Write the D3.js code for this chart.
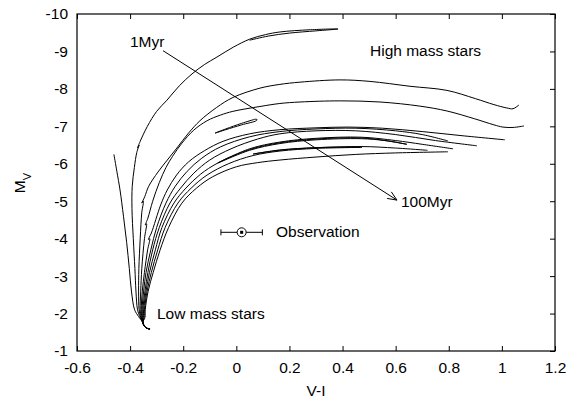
<!DOCTYPE html>
<html><head><meta charset="utf-8">
<script src="https://cdn.jsdelivr.net/npm/d3@7"></script>
<style>
body{margin:0;background:#fff}
text{font-family:"Liberation Sans",Arial,Helvetica,sans-serif;fill:#000}
</style>
</head><body>
<svg id="chart" width="573" height="401"></svg>
<script>
// ---- data (V-I, M_V) ----
const xTicks = [-0.6, -0.4, -0.2, 0, 0.2, 0.4, 0.6, 0.8, 1, 1.2];
const yTicks = [-10, -9, -8, -7, -6, -5, -4, -3, -2, -1];

const isoA = [[-0.325,-1.59],[-0.338,-1.61],[-0.346,-1.66],[-0.352,-1.76],[-0.368,-1.92],[-0.383,-2.1],[-0.395,-2.6],[-0.403,-3.2],[-0.413,-3.9],[-0.425,-4.6],[-0.438,-5.3],[-0.45,-5.8],[-0.461,-6.25]];
const isoB = [[-0.325,-1.59],[-0.338,-1.61],[-0.346,-1.66],[-0.352,-1.76],[-0.362,-1.9],[-0.372,-2.1],[-0.378,-2.6],[-0.382,-3.2],[-0.388,-4.0],[-0.393,-4.8],[-0.392,-5.4],[-0.384,-5.9],[-0.375,-6.3],[-0.366,-6.5],[-0.372,-6.42],[-0.362,-6.6],[-0.335,-7.0],[-0.3,-7.4],[-0.261,-7.7],[-0.215,-8.08],[-0.167,-8.4],[-0.12,-8.65],[-0.073,-8.85],[-0.01,-9.12],[0.051,-9.33],[0.11,-9.45],[0.164,-9.52],[0.28,-9.58],[0.383,-9.6],[0.3,-9.55],[0.2,-9.49],[0.12,-9.41],[0.05,-9.3]];
const isoC = [[-0.325,-1.59],[-0.338,-1.61],[-0.346,-1.66],[-0.352,-1.76],[-0.36,-1.9],[-0.366,-2.1],[-0.368,-2.6],[-0.367,-3.2],[-0.362,-4.0],[-0.356,-4.7],[-0.35,-5.0],[-0.356,-4.95],[-0.345,-5.12],[-0.33,-5.4],[-0.295,-5.78],[-0.26,-6.1],[-0.224,-6.42],[-0.18,-6.82],[-0.137,-7.15],[-0.075,-7.5],[-0.013,-7.77],[0.089,-8.02],[0.164,-8.12],[0.24,-8.18],[0.39,-8.24],[0.503,-8.2],[0.654,-8.07],[0.793,-7.96],[0.9,-7.74],[0.97,-7.58],[1.019,-7.49],[1.042,-7.47],[1.064,-7.57]];
const isoD = [[-0.325,-1.59],[-0.338,-1.61],[-0.346,-1.66],[-0.352,-1.76],[-0.358,-1.9],[-0.362,-2.1],[-0.36,-2.6],[-0.356,-3.2],[-0.346,-4.0],[-0.338,-4.4],[-0.343,-4.36],[-0.333,-4.55],[-0.315,-5.0],[-0.29,-5.5],[-0.265,-5.9],[-0.24,-6.2],[-0.205,-6.55],[-0.16,-6.9],[-0.11,-7.15],[-0.06,-7.3],[-0.013,-7.4],[0.089,-7.53],[0.164,-7.61],[0.24,-7.65],[0.39,-7.68],[0.541,-7.65],[0.691,-7.54],[0.793,-7.41],[0.898,-7.2],[0.97,-7.04],[1.004,-6.98],[1.042,-6.97],[1.083,-7.01]];
const isoE = [[-0.325,-1.59],[-0.338,-1.61],[-0.346,-1.66],[-0.352,-1.76],[-0.356,-1.9],[-0.358,-2.1],[-0.354,-2.6],[-0.346,-3.1],[-0.334,-3.7],[-0.326,-4.0],[-0.331,-3.98],[-0.32,-4.15],[-0.285,-4.9],[-0.26,-5.3],[-0.225,-5.7],[-0.18,-6.05],[-0.12,-6.35],[-0.05,-6.6],[0.05,-6.8],[0.164,-6.91],[0.3,-6.96],[0.42,-6.98],[0.55,-6.95],[0.7,-6.86],[0.85,-6.75],[1.011,-6.64]];
const isoF = [[-0.325,-1.59],[-0.338,-1.61],[-0.346,-1.66],[-0.352,-1.76],[-0.354,-1.9],[-0.355,-2.1],[-0.349,-2.6],[-0.34,-3.1],[-0.322,-3.7],[-0.3,-4.3],[-0.265,-4.95],[-0.23,-5.4],[-0.185,-5.8],[-0.13,-6.15],[-0.06,-6.45],[0.05,-6.72],[0.164,-6.86],[0.3,-6.93],[0.45,-6.95],[0.6,-6.88],[0.7,-6.78],[0.797,-6.61]];
const isoG = [[-0.325,-1.59],[-0.338,-1.61],[-0.346,-1.66],[-0.352,-1.76],[-0.352,-1.9],[-0.352,-2.1],[-0.344,-2.6],[-0.333,-3.1],[-0.315,-3.7],[-0.29,-4.3],[-0.25,-4.95],[-0.21,-5.35],[-0.16,-5.75],[-0.1,-6.1],[-0.02,-6.4],[0.08,-6.66],[0.164,-6.8],[0.3,-6.88],[0.45,-6.88],[0.6,-6.78],[0.75,-6.62],[0.906,-6.48]];
const isoH = [[-0.325,-1.59],[-0.338,-1.61],[-0.346,-1.66],[-0.352,-1.76],[-0.35,-1.9],[-0.349,-2.1],[-0.34,-2.6],[-0.327,-3.1],[-0.305,-3.7],[-0.28,-4.3],[-0.235,-4.95],[-0.19,-5.35],[-0.135,-5.72],[-0.07,-6.02],[0.05,-6.38],[0.164,-6.56],[0.3,-6.66],[0.47,-6.69],[0.58,-6.6],[0.642,-6.52],[0.56,-6.62],[0.47,-6.67],[0.3,-6.64],[0.164,-6.54],[0.05,-6.36],[-0.07,-6.02],[0.05,-6.4],[0.164,-6.58],[0.3,-6.68],[0.47,-6.71],[0.6,-6.62],[0.7,-6.52],[0.816,-6.4]];
const isoI = [[-0.325,-1.59],[-0.338,-1.61],[-0.346,-1.66],[-0.352,-1.76],[-0.347,-1.9],[-0.346,-2.1],[-0.336,-2.6],[-0.32,-3.1],[-0.296,-3.7],[-0.268,-4.3],[-0.22,-4.95],[-0.17,-5.35],[-0.11,-5.7],[-0.03,-6.0],[0.063,-6.22],[0.164,-6.34],[0.3,-6.41],[0.473,-6.44],[0.3,-6.43],[0.164,-6.37],[0.063,-6.26],[0.164,-6.36],[0.3,-6.43],[0.473,-6.46],[0.6,-6.42],[0.72,-6.36]];
const isoJ = [[-0.325,-1.59],[-0.338,-1.61],[-0.346,-1.66],[-0.352,-1.76],[-0.344,-1.9],[-0.343,-2.1],[-0.332,-2.6],[-0.313,-3.1],[-0.287,-3.7],[-0.255,-4.3],[-0.205,-4.95],[-0.15,-5.35],[-0.09,-5.65],[0.0,-5.92],[0.08,-6.03],[0.164,-6.1],[0.3,-6.18],[0.45,-6.25],[0.6,-6.29],[0.797,-6.32]];
const blueLoop = [[0.07,-7.19],[0.02,-7.08],[-0.04,-6.93],[-0.08,-6.82],[-0.04,-6.91],[0.02,-7.04],[0.075,-7.15],[0.078,-7.18],[0.07,-7.19]];

const observation = {vi: 0.02, mv: -4.17, err: 0.078};
const ageArrow = {from: [-0.276, -9.02], to: [0.605, -5.03]};

// ---- layout ----
const svg = d3.select("#chart");
const L = 77, R = 555, T = 14, B = 351;
const x = d3.scaleLinear().domain([-0.6, 1.2]).range([L, R]);
const y = d3.scaleLinear().domain([-1, -10]).range([B, T]);
const fmt = d => String(d);
const FS = "15.5px";

// axes (ticks drawn inward on bottom, top and right)
const gx = svg.append("g").attr("transform", `translate(0,${B})`)
  .call(d3.axisBottom(x).tickValues(xTicks).tickFormat(fmt).tickSizeInner(-5).tickSizeOuter(0).tickPadding(11));
const gy = svg.append("g").attr("transform", `translate(${L},0)`)
  .call(d3.axisLeft(y).tickValues(yTicks).tickFormat(fmt).tickSizeInner(0).tickSizeOuter(0).tickPadding(9));
const gt = svg.append("g").attr("transform", `translate(0,${T})`)
  .call(d3.axisTop(x).tickValues(xTicks).tickFormat("").tickSizeInner(-5).tickSizeOuter(0));
const gr = svg.append("g").attr("transform", `translate(${R},0)`)
  .call(d3.axisRight(y).tickValues(yTicks).tickFormat("").tickSizeInner(-5).tickSizeOuter(0));
[gx, gy, gt, gr].forEach(g => {
  g.select(".domain").remove();
  g.selectAll(".tick line").attr("stroke", "#000");
  g.selectAll("text").style("font-size", FS).attr("fill", "#000");
  g.attr("font-family", null).attr("font-size", null);
});

svg.append("rect").attr("x", L).attr("y", T).attr("width", R - L).attr("height", B - T)
  .attr("fill", "none").attr("stroke", "#000").attr("stroke-width", 1.2);

// axis titles
svg.append("text").attr("x", (L + R) / 2).attr("y", 396).attr("text-anchor", "middle")
  .style("font-size", FS).text("V-I");
const yl = svg.append("text").attr("transform", "translate(25,183) rotate(-90)")
  .attr("text-anchor", "middle").style("font-size", FS);
yl.append("tspan").text("M");
yl.append("tspan").attr("baseline-shift", "sub").style("font-size", "11px").text("V");

// isochrones
const line = d3.line().x(d => x(d[0])).y(d => y(d[1])).curve(d3.curveCatmullRom.alpha(0.5));
const isochrones = [isoA, isoB, isoC, isoD, isoE, isoF, isoG, isoH, isoI, isoJ, blueLoop];
svg.append("g").selectAll("path").data(isochrones).join("path")
  .attr("d", line).attr("fill", "none").attr("stroke", "#000").attr("stroke-width", 1);

// age arrow
const ax1 = x(ageArrow.from[0]), ay1 = y(ageArrow.from[1]);
const ax2 = x(ageArrow.to[0]), ay2 = y(ageArrow.to[1]);
svg.append("line").attr("x1", ax1).attr("y1", ay1).attr("x2", ax2).attr("y2", ay2)
  .attr("stroke", "#000").attr("stroke-width", 1);
const ang = Math.atan2(ay2 - ay1, ax2 - ax1), hl = 10, ha = 0.4;
svg.append("path")
  .attr("d", `M${ax2 - hl*Math.cos(ang - ha)},${ay2 - hl*Math.sin(ang - ha)}L${ax2},${ay2}L${ax2 - hl*Math.cos(ang + ha)},${ay2 - hl*Math.sin(ang + ha)}`)
  .attr("fill", "none").attr("stroke", "#000").attr("stroke-width", 1);

// labels
svg.append("text").attr("x", 130).attr("y", 47).style("font-size", FS).text("1Myr");
svg.append("text").attr("x", 401).attr("y", 207).style("font-size", FS).text("100Myr");
svg.append("text").attr("x", 370).attr("y", 56).style("font-size", FS).text("High mass stars");
svg.append("text").attr("x", 157).attr("y", 319).style("font-size", FS).text("Low mass stars");
svg.append("text").attr("x", 276).attr("y", 237).style("font-size", FS).text("Observation");

// observation point with error bar
const ox = x(observation.vi), oy = y(observation.mv);
const ox1 = x(observation.vi - observation.err), ox2 = x(observation.vi + observation.err);
const og = svg.append("g").attr("stroke", "#000").attr("stroke-width", 1);
og.append("line").attr("x1", ox1).attr("x2", ox2).attr("y1", oy).attr("y2", oy);
og.append("line").attr("x1", ox1).attr("x2", ox1).attr("y1", oy - 3).attr("y2", oy + 3);
og.append("line").attr("x1", ox2).attr("x2", ox2).attr("y1", oy - 3).attr("y2", oy + 3);
og.append("circle").attr("cx", ox).attr("cy", oy).attr("r", 4.5).attr("fill", "#fff");
svg.append("rect").attr("x", ox - 1.5).attr("y", oy - 1.5).attr("width", 3).attr("height", 3).attr("fill", "#000");
</script>
</body></html>
